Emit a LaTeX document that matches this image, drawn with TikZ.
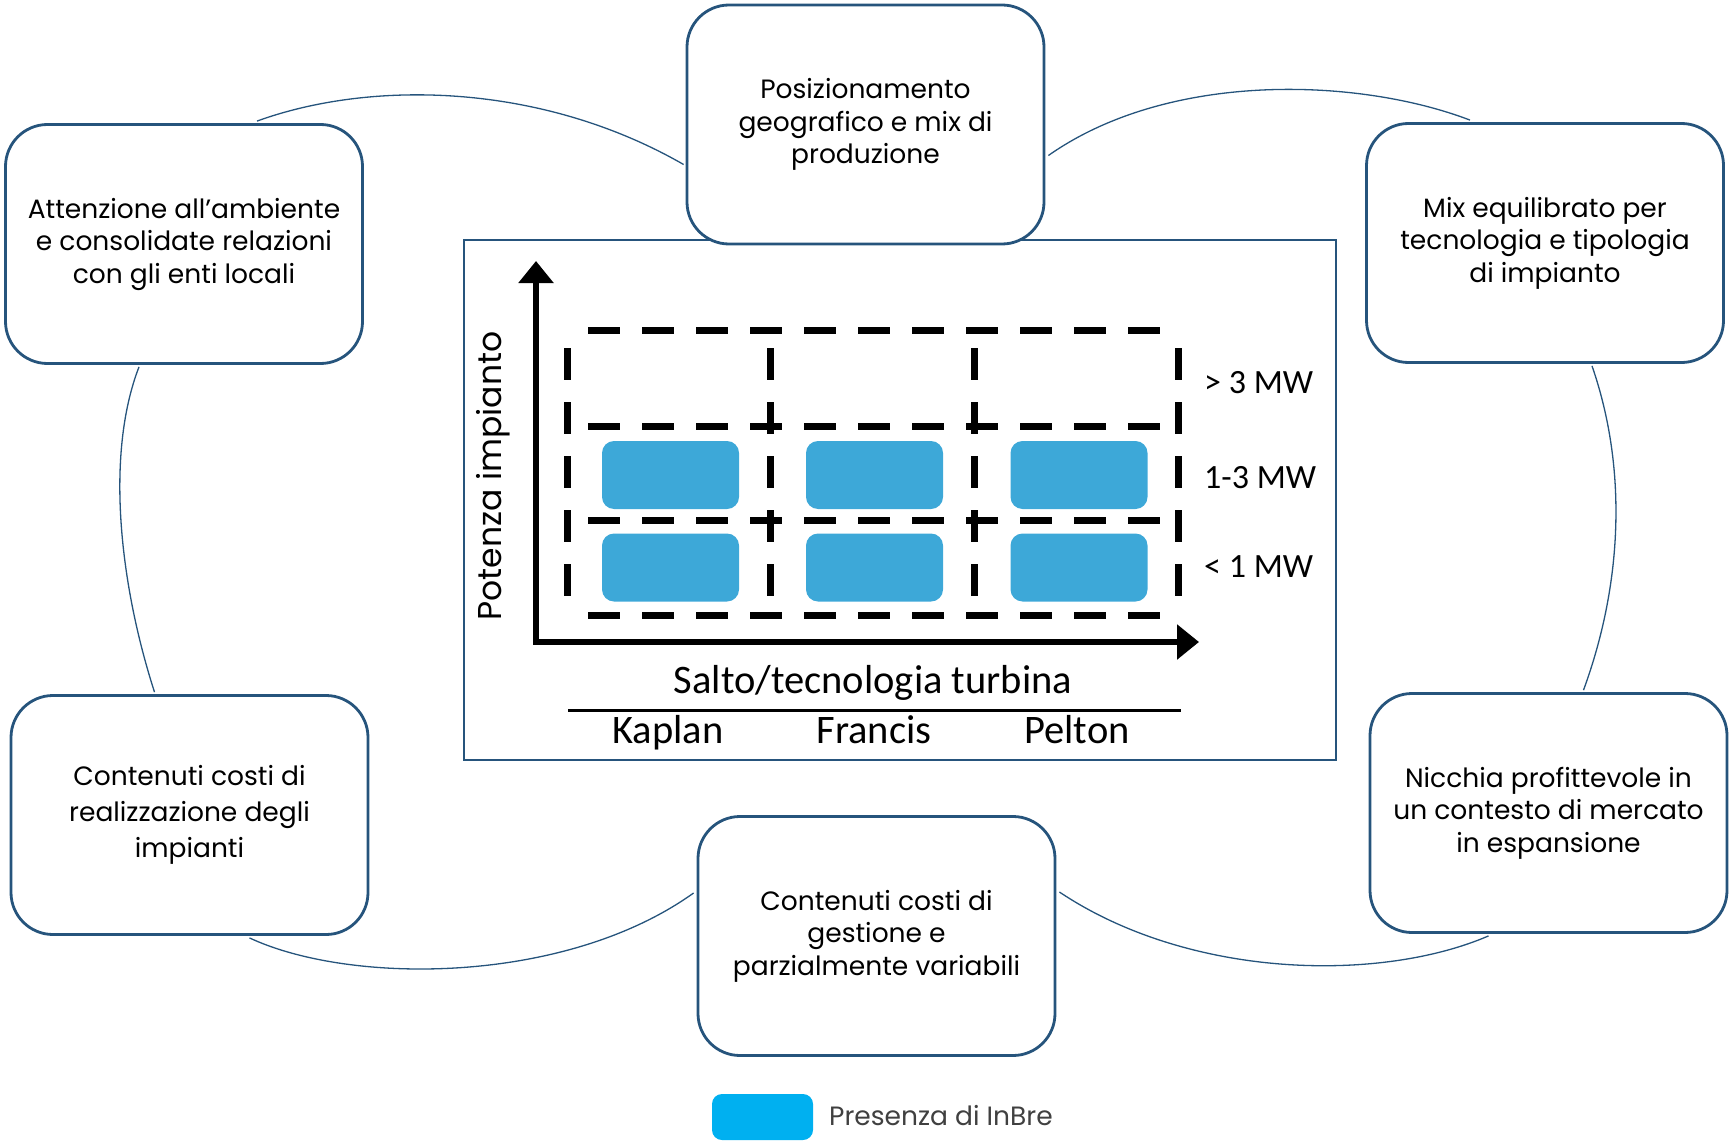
\documentclass[tikz,border=0pt]{standalone}
\usepackage{fontspec}
\setmainfont{Poppins}
\newfontfamily\calfont{Carlito}
\usetikzlibrary{arrows.meta,calc}
\definecolor{bordblue}{RGB}{38,84,124}
\definecolor{cellblue}{RGB}{61,168,216}
\definecolor{legblue}{RGB}{0,176,240}
\definecolor{leggray}{RGB}{64,64,64}
\begin{document}
\begin{tikzpicture}[x=1pt,y=-1pt,
  infobox/.style={draw=bordblue,line width=2.8pt,rounded corners=42pt,minimum width=357pt,minimum height=239pt,align=center,font=\fontsize{26.5}{32.5}\selectfont,inner sep=0pt},
  ring/.style={draw=bordblue,line width=1.3pt},
  gridline/.style={line width=7pt,dash pattern=on 32pt off 22pt},
  cell/.style={fill=cellblue,rounded corners=12pt,minimum width=137pt,minimum height=68pt,inner sep=0pt},
  axis/.style={line width=6pt,-{Triangle[width=34pt,length=22pt]}},
  chartlbl/.style={font=\calfont\fontsize{40.5}{40}\selectfont,inner sep=0pt,anchor=base},
  mwlbl/.style={font=\calfont\fontsize{34}{34}\selectfont,inner sep=0pt,anchor=base west},
]
\useasboundingbox (0,0) rectangle (1729,1142);

% chart frame
\node[draw=bordblue,line width=2pt,minimum width=872pt,minimum height=520pt,inner sep=0pt] (frame) at (900,500) {};

% boxes
\node[infobox] (tl) at (184,244) {Attenzione all’ambiente\\e consolidate relazioni\\con gli enti locali};
\node[infobox,fill=white] (tc) at (865.5,124.5) {Posizionamento\\geografico e mix di\\produzione};
\node[infobox] (tr) at (1545,243) {Mix equilibrato per\\tecnologia e tipologia\\di impianto};
\node[infobox,font=\fontsize{26.5}{36}\selectfont] (bl) at (189.5,815) {Contenuti costi di\\realizzazione degli\\impianti};
\node[infobox] (bc) at (876.5,936) {Contenuti costi di\\gestione e\\parzialmente variabili};
\node[infobox] (br) at (1548.5,813) {Nicchia profittevole in\\un contesto di mercato\\in espansione};

% ring arcs
\draw[ring] ($(tl.north)+(73,-2)$) .. controls (370,80) and (540,82) .. ($(tc.west)+(-2,40)$);
\draw[ring] ($(tc.east)+(3,31)$) .. controls (1170,70) and (1360,78) .. ($(tr.north)+(-75,-2)$);
\draw[ring] ($(tr.south)+(47,2)$) .. controls (1628,470) and (1622,585) .. ($(br.north)+(35,-2)$);
\draw[ring] ($(bc.east)+(3,-44)$) .. controls (1191,980) and (1382,982) .. ($(br.south)+(-60,2)$);
\draw[ring] ($(bc.west)+(-3,-43)$) .. controls (565,985) and (350,985) .. ($(bl.south)+(60,2)$);
\draw[ring] ($(bl.north)+(-35,-2)$) .. controls (120,585) and (105,455) .. ($(tl.south)+(-45,2)$);

% dashed grid
\foreach \yy in {330,426,520,615} \draw[gridline] (588,\yy) -- (1162,\yy);
\foreach \xx in {567,770,974,1178} \draw[gridline] (\xx,348) -- (\xx,602);

% cells
\node[cell] (c11) at (670.5,475) {};
\node[cell] (c12) at (874.5,475) {};
\node[cell] (c13) at (1079,475) {};
\node[cell] (c21) at (670.5,567.5) {};
\node[cell] (c22) at (874.5,567.5) {};
\node[cell] (c23) at (1079,567.5) {};

% axes
\coordinate (orig) at (536,642);
\coordinate (ytip) at (536,261);
\coordinate (xtip) at (1199,642);
\draw[axis] (orig) -- (ytip);
\draw[axis] ($(orig)+(-3,0)$) -- (xtip);

% labels
\node[mwlbl] (m1) at (1204,393) {> 3 MW};
\node[mwlbl] (m2) at (1204,488) {1-3 MW};
\node[mwlbl] (m3) at (1204,577) {< 1 MW};
\node[rotate=90,font=\fontsize{33}{33}\selectfont,inner sep=0pt] (pot) at (493,476) {Potenza impianto};
\node[chartlbl] (salto) at (873,693) {Salto/tecnologia turbina};
\coordinate (ul) at (568,710);
\coordinate (ur) at (1181,710);
\draw[line width=3pt] (ul) -- (ur);
\node[chartlbl] (kap) at (668,743) {Kaplan};
\node[chartlbl] (fra) at (874,743) {Francis};
\node[chartlbl] (pel) at (1077,743) {Pelton};

% legend
\node[fill=legblue,rounded corners=10pt,minimum width=101pt,minimum height=46pt,inner sep=0pt] (leg) at (762.5,1117) {};
\node[anchor=west,inner sep=0pt,text=leggray,font=\fontsize{26.5}{26.5}\selectfont] (legt) at (829,1116) {Presenza di InBre};
\end{tikzpicture}
\end{document}
